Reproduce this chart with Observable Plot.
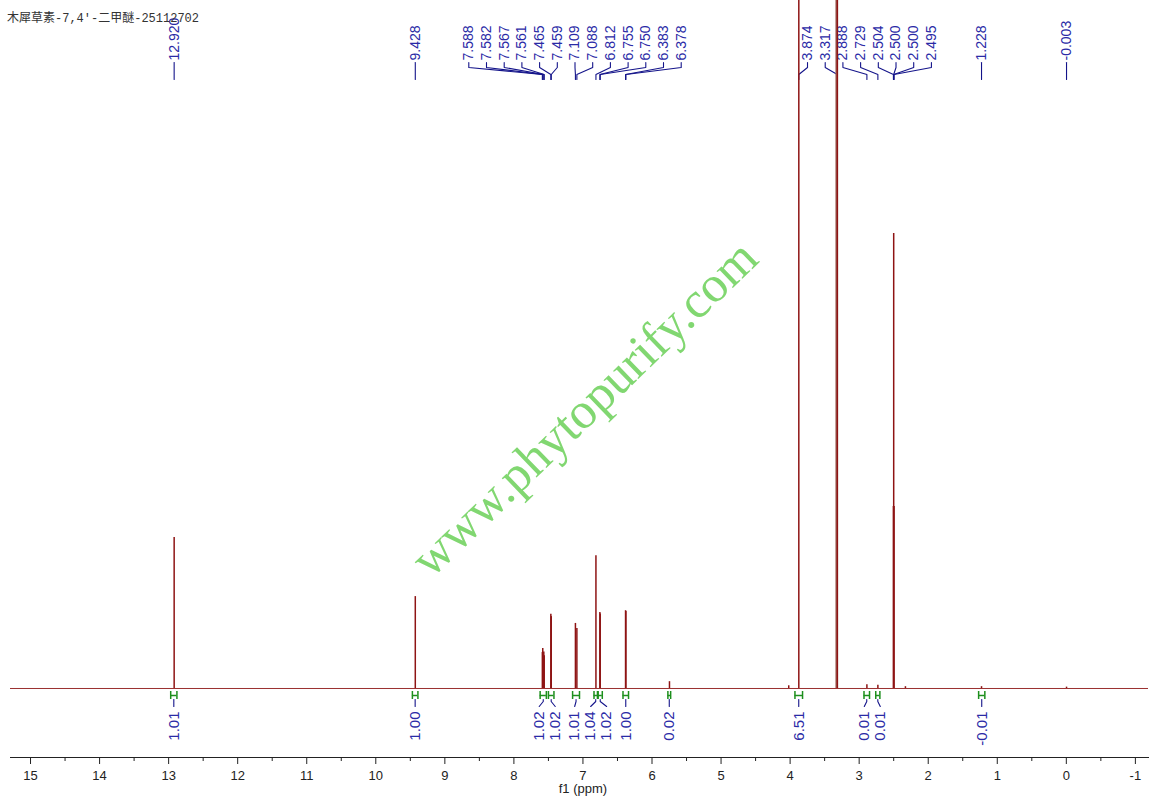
<!DOCTYPE html>
<html><head><meta charset="utf-8">
<script src="https://cdn.jsdelivr.net/npm/d3@7"></script>
<script src="https://cdn.jsdelivr.net/npm/@observablehq/plot@0.6"></script>
<style>
body{margin:0;background:#fff;}
#wrap{position:relative;width:1161px;height:809px;overflow:hidden;}
#title{position:absolute;left:7px;top:8px;font:12px "Liberation Mono","Noto Sans CJK SC",monospace;color:#333;white-space:nowrap;}
#wm{position:absolute;left:584px;top:408px;transform:translate(-50%,-50%) rotate(-44deg);font:51px "Liberation Serif",serif;color:#66cf52;opacity:.82;white-space:nowrap;pointer-events:none;}
g[aria-label="integral values"] text{letter-spacing:1.5px;}
</style></head><body>
<div id="wrap"><div id="chart"></div><div id="title"></div><div id="wm"></div></div>
<script>
// ---- data ----
const chartTitle = "木犀草素-7,4'-二甲醚-25112702";
const watermark = "www.phytopurify.com";
const axisLabel = "f1 (ppm)";

// spectrum peaks (ppm, relative intensity, DMSO 2.500 = 100)
const peakPpm    = [12.920, 9.428, 7.588, 7.582, 7.567, 7.561, 7.465, 7.459, 7.109, 7.088, 6.812, 6.755, 6.750, 6.383, 6.378, 5.747, 4.020, 3.874, 3.317, 2.888, 2.729, 2.504, 2.500, 2.495, 2.330, 1.228, -0.003];
const peakHeight = [33.2, 20.2, 7.9, 8.8, 8.0, 7.2, 16.3, 15.8, 14.3, 13.2, 29.2, 16.7, 16.4, 17.1, 16.9, 1.5, 0.6, 400, 400, 0.8, 0.7, 40, 100, 40, 0.4, 0.4, 0.3];
// peak line widths (ppm) for the broad peaks
const broadPpm   = [3.317];
const broadWidth = [0.04];

// labelled peaks
const labelPpm = [12.920, 9.428, 7.588, 7.582, 7.567, 7.561, 7.465, 7.459, 7.109, 7.088, 6.812, 6.755, 6.750, 6.383, 6.378, 3.874, 3.317, 2.888, 2.729, 2.504, 2.500, 2.500, 2.495, 1.228, -0.003];

// integrals
const intStart = [12.97, 9.47, 7.62, 7.50, 7.15, 6.84, 6.78, 6.42, 5.77, 3.93, 2.93, 2.76, 1.27];
const intEnd   = [12.88, 9.39, 7.53, 7.42, 7.05, 6.79, 6.72, 6.34, 5.73, 3.82, 2.85, 2.70, 1.18];
const intValue = ["1.01", "1.00", "1.02", "1.02", "1.01", "1.04", "1.02", "1.00", "0.02", "6.51", "0.01", "0.01", "-0.01"];

// axis
const majorTicks = [15, 14, 13, 12, 11, 10, 9, 8, 7, 6, 5, 4, 3, 2, 1, 0, -1];
const minorTicks = [14.5, 13.5, 12.5, 11.5, 10.5, 9.5, 8.5, 7.5, 6.5, 5.5, 4.5, 3.5, 2.5, 1.5, 0.5, -0.5];

// ---- layout ----
const W = 1161, H = 809;
const mL = 10, mR = 13, mT = 0, mB = 52;
const xDomain = [15.29, -1.19];
const yDomain = [-15.165, 151.21];
const xs = Plot.scale({x: {domain: xDomain, range: [mL, W - mR]}});
const ys = Plot.scale({y: {domain: yDomain, range: [H - mB, mT]}});
const py = p => ys.invert(p);

function spread(px, gap, mergeDist) {
  const order = px.map((v, i) => i).sort((a, b) => px[a] - px[b]);
  let clusters = order.map(i => ({members: [i], sum: px[i]}));
  const lo = c => c.sum / c.members.length - (c.members.length - 1) * gap / 2;
  const hi = c => c.sum / c.members.length + (c.members.length - 1) * gap / 2;
  let merged = true;
  while (merged) {
    merged = false;
    for (let k = 0; k < clusters.length - 1; k++) {
      if (lo(clusters[k + 1]) - hi(clusters[k]) < mergeDist) {
        clusters[k] = {members: clusters[k].members.concat(clusters[k + 1].members), sum: clusters[k].sum + clusters[k + 1].sum};
        clusters.splice(k + 1, 1); merged = true; break;
      }
    }
  }
  const out = new Array(px.length);
  for (const c of clusters) { const s = lo(c); c.members.forEach((i, j) => out[i] = s + j * gap); }
  return out;
}

// peak labels
const labelPx = labelPpm.map(v => xs.apply(v));
const labelPos = spread(labelPx, 17.7, 32);
const peakLabels = labelPpm.map((v, i) => ({ppm: v, lx: xs.invert(labelPos[i]), text: v.toFixed(3)}));
const leaders = [];
peakLabels.forEach((d, i) => {
  leaders.push({id: i, x: d.lx, y: py(62)}, {id: i, x: d.lx, y: py(67)}, {id: i, x: d.ppm, y: py(74)}, {id: i, x: d.ppm, y: py(79)});
});

// integral marks
const integrals = intStart.map((s, i) => ({s, e: intEnd[i], c: (s + intEnd[i]) / 2, v: intValue[i]}));
const intPos = spread(integrals.map(d => xs.apply(d.c)), 16, 16);
integrals.forEach((d, i) => d.lx = xs.invert(intPos[i]));
const intLinks = [];
integrals.forEach((d, i) => {
  intLinks.push({id: i, x: d.c, y: py(699)}, {id: i, x: d.c, y: py(701)}, {id: i, x: d.lx, y: py(706)});
});

const peaks = peakPpm.map((p, i) => ({p, h: peakHeight[i]}));
const broad = broadPpm.map((p, i) => ({x1: p + broadWidth[i] / 2, x2: p - broadWidth[i] / 2, h: peakHeight[peakPpm.indexOf(p)]}));

const red = "#8e1414";
const blue = "#2a2aa6";
const navy = "#14148a";
const green = "#1d8f1d";

const chart = Plot.plot({
  width: W, height: H,
  marginLeft: mL, marginRight: mR, marginTop: mT, marginBottom: mB,
  style: {fontFamily: "'Liberation Sans', Arial, sans-serif", background: "#fff"},
  x: {domain: xDomain, label: null},
  y: {domain: yDomain, axis: null},
  marks: [
    // axis
    Plot.frame({anchor: "bottom", stroke: "#222"}),
    Plot.axisX({ticks: majorTicks, tickSize: 7, tickPadding: 6, tickFormat: d => String(d), fontSize: 13, fill: "#222", stroke: "#222", label: null}),
    Plot.axisX({ticks: minorTicks, tickSize: 4, tickFormat: () => "", stroke: "#222", label: null}),
    Plot.text([axisLabel], {frameAnchor: "bottom", dy: 35, text: d => d, fontSize: 13, fill: "#222", x: () => 7.0}),
    // peak labels
    Plot.line(leaders, {x: "x", y: "y", z: "id", stroke: navy, strokeWidth: 1.1}),
    Plot.text(peakLabels, {x: "lx", y: () => py(60), text: "text", rotate: -90, textAnchor: "start", lineAnchor: "middle", fontSize: 14, fill: blue}),
    // integrals
    Plot.ruleX(integrals, {x: "s", y1: () => py(691), y2: () => py(699), stroke: green, strokeWidth: 1.5}),
    Plot.ruleX(integrals, {x: "e", y1: () => py(691), y2: () => py(699), stroke: green, strokeWidth: 1.5}),
    Plot.ruleY(integrals, {y: () => py(695), x1: "s", x2: "e", stroke: green, strokeWidth: 1.5}),
    Plot.line(intLinks, {x: "x", y: "y", z: "id", stroke: navy, strokeWidth: 1.1}),
    Plot.text(integrals, {x: "lx", y: () => py(711), text: "v", rotate: -90, textAnchor: "end", lineAnchor: "middle", fontSize: 15, fill: blue, ariaLabel: "integral values"}),
    // spectrum
    Plot.ruleY([0], {stroke: "#9a3030", strokeWidth: 1}),
    Plot.rectY(broad, {x1: "x1", x2: "x2", y1: 0, y2: "h", fill: "#a06a60", clip: true}),
    Plot.ruleX(peaks, {x: "p", y1: 0, y2: "h", stroke: red, strokeWidth: 1.5, clip: true})
  ]
});
document.getElementById("chart").append(chart);
document.getElementById("title").textContent = chartTitle;
document.getElementById("wm").textContent = watermark;
</script>
</body></html>
